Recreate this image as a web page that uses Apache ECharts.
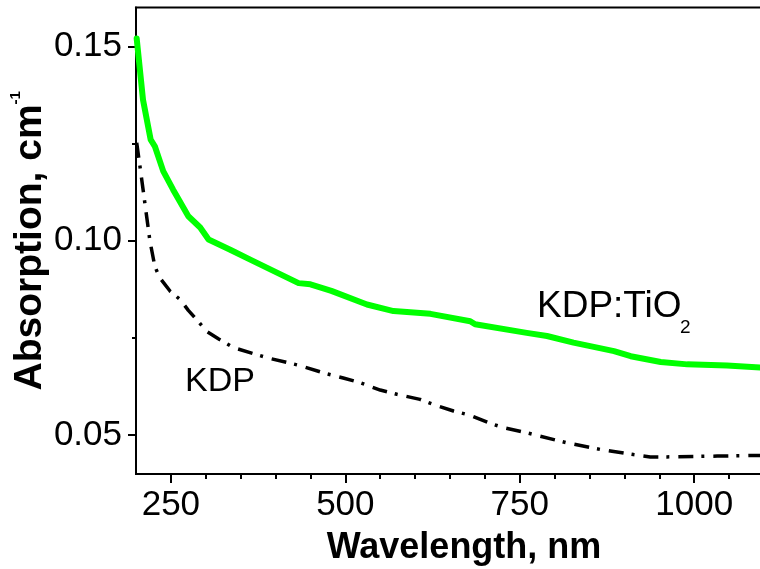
<!DOCTYPE html>
<html>
<head>
<meta charset="utf-8">
<script src="https://cdn.jsdelivr.net/npm/echarts@6/dist/echarts.min.js"></script>
<style>
html,body{margin:0;padding:0;background:#fff;}
#chart{width:760px;height:569px;}
</style>
</head>
<body>
<div id="chart"></div>
<script>
// ---- data ----
const tio2Wavelength = [201, 210, 221, 227, 239, 253, 275, 292, 304, 335, 363, 402, 433, 450, 480, 531, 569, 622, 679, 686, 760, 789, 827, 885, 909, 952, 990, 1047, 1100];
const tio2Absorption = [0.152, 0.1363, 0.126, 0.1243, 0.1179, 0.1132, 0.1063, 0.1034, 0.1003, 0.0977, 0.0952, 0.0918, 0.0891, 0.0888, 0.0871, 0.0836, 0.0819, 0.0812, 0.0793, 0.0785, 0.0763, 0.0755, 0.0738, 0.0716, 0.0703, 0.0688, 0.0682, 0.0679, 0.0673];
const kdpWavelength = [201, 206, 213, 220, 227, 234, 249, 263, 275, 289, 301, 318, 340, 390, 435, 469, 497, 521, 550, 574, 607, 626, 655, 679, 708, 727, 760, 818, 866, 913, 937, 961, 1033, 1100];
const kdpAbsorption = [0.1252, 0.1187, 0.1093, 0.0999, 0.0934, 0.0905, 0.0870, 0.0849, 0.0821, 0.0793, 0.0767, 0.0748, 0.0725, 0.0698, 0.0679, 0.0660, 0.0647, 0.0635, 0.0616, 0.0605, 0.0592, 0.0579, 0.0562, 0.0551, 0.0530, 0.0519, 0.0506, 0.0480, 0.0463, 0.0450, 0.0444, 0.0444, 0.0446, 0.0448];
const xMajorTicks = [250, 500, 750, 1000];
const xMinorTicks = [300, 350, 400, 450, 550, 600, 650, 700, 800, 850, 900, 950, 1050];
const yMajorTicks = [0.05, 0.10, 0.15];
const yMinorTicks = [0.075, 0.125];
const xRange = [200, 1100];
const yRange = [0.04, 0.16];

const FONT = '"Liberation Sans", Arial, Helvetica, sans-serif';
const zip = (a, b) => a.map((v, i) => [v, b[i]]);

const chart = echarts.init(document.getElementById('chart'), null, {renderer: 'canvas'});
const baseX = {
  type: 'value', min: xRange[0], max: xRange[1], position: 'bottom',
  splitLine: {show: false}
};
const baseY = {
  type: 'value', min: yRange[0], max: yRange[1], position: 'left',
  splitLine: {show: false}
};
chart.setOption({
  animation: false,
  backgroundColor: '#fff',
  grid: {left: 136, right: -4, top: 7.5, bottom: 95, outerBoundsMode: 'none', containLabel: false,
    show: true, borderColor: '#000', borderWidth: 2, backgroundColor: 'transparent'},
  xAxis: [
    Object.assign({}, baseX, {
      axisLine: {show: true, lineStyle: {color: '#000', width: 2}},
      axisTick: {show: true, inside: false, length: 9, customValues: xMajorTicks, lineStyle: {color: '#000', width: 2}},
      axisLabel: {show: true, customValues: xMajorTicks, margin: 14, color: '#000', fontSize: 35, fontFamily: FONT,
        formatter: v => String(v)},
      name: 'Wavelength, nm', nameLocation: 'middle', nameGap: 56, nameMoveOverlap: false,
      nameTextStyle: {color: '#000', fontSize: 36, fontWeight: 'bold', fontFamily: FONT, padding: [0, 0, 0, 28]}
    }),
    Object.assign({}, baseX, {
      axisLine: {show: false},
      axisTick: {show: true, inside: false, length: 5, customValues: xMinorTicks, lineStyle: {color: '#000', width: 2}},
      axisLabel: {show: false}
    })
  ],
  yAxis: [
    Object.assign({}, baseY, {
      axisLine: {show: true, lineStyle: {color: '#000', width: 2}},
      axisTick: {show: true, inside: false, length: 8, customValues: yMajorTicks, lineStyle: {color: '#000', width: 2}},
      axisLabel: {show: true, customValues: yMajorTicks, margin: 14, color: '#000', fontSize: 35, fontFamily: FONT,
        formatter: v => Number(v).toFixed(2)},
      name: '{b|Absorption, cm}{s|-1}', nameLocation: 'middle', nameGap: 84, nameRotate: 90, nameMoveOverlap: false,
      nameTextStyle: {
        rich: {
          b: {fontSize: 39, fontWeight: 'bold', fontFamily: FONT, color: '#000', lineHeight: 44, verticalAlign: 'middle'},
          s: {fontSize: 15, fontWeight: 'bold', fontFamily: FONT, color: '#000', lineHeight: 44, verticalAlign: 'top'}
        }
      }
    }),
    Object.assign({}, baseY, {
      offset: 0,
      axisLine: {show: false},
      axisTick: {show: true, inside: false, length: 4, customValues: yMinorTicks, lineStyle: {color: '#000', width: 2}},
      axisLabel: {show: false}
    })
  ],
  series: [
    {
      name: 'KDP:TiO2', type: 'line', xAxisIndex: 0, yAxisIndex: 0,
      data: zip(tio2Wavelength, tio2Absorption),
      showSymbol: false, symbol: 'none', smooth: false,
      lineStyle: {color: '#00ff00', width: 6, cap: 'round', join: 'round'},
      z: 3
    },
    {
      name: 'KDP', type: 'line', xAxisIndex: 0, yAxisIndex: 0,
      data: zip(kdpWavelength, kdpAbsorption),
      showSymbol: false, symbol: 'none', smooth: false,
      lineStyle: {color: '#000', width: 3.5, type: [15, 8, 3, 9]},
      z: 2
    }
  ],
  graphic: [
    {type: 'text', left: 537, top: 307 - 18.5, style: {text: 'KDP:TiO', font: '37px ' + FONT, fill: '#000'}},
    {type: 'text', left: 680, top: 327.5 - 9.5, style: {text: '2', font: '19px ' + FONT, fill: '#000'}},
    {type: 'text', left: 185, top: 381.3 - 17, style: {text: 'KDP', font: '34px ' + FONT, fill: '#000'}}
  ]
});
</script>
</body>
</html>
